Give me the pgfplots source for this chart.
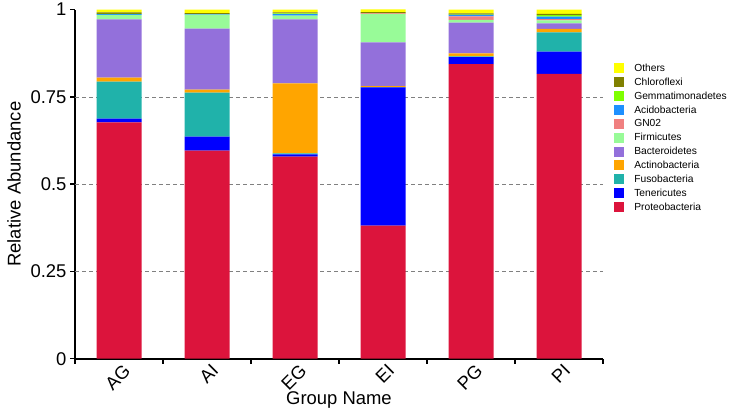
\documentclass[border=0pt]{standalone}
\usepackage{fontspec}
\setmainfont{Liberation Sans}
\usepackage{pgfplots}
\pgfplotsset{compat=1.18}
\definecolor{cOthers}{HTML}{FFFF00}
\definecolor{cChloro}{HTML}{808000}
\definecolor{cGemma}{HTML}{7FFF00}
\definecolor{cAcido}{HTML}{1E90FF}
\definecolor{cGN}{HTML}{F08080}
\definecolor{cFirm}{HTML}{98FB98}
\definecolor{cBact}{HTML}{9370DB}
\definecolor{cActino}{HTML}{FFA500}
\definecolor{cFuso}{HTML}{20B2AA}
\definecolor{cTeneri}{HTML}{0000FF}
\definecolor{cProteo}{HTML}{DC143C}
\begin{document}
\begin{tikzpicture}
\begin{axis}[
  name=ax,
  scale only axis,
  width=528bp, height=349bp,
  ybar stacked,
  bar width=45bp,
  xmin=-0.5, xmax=5.5,
  ymin=0, ymax=1,
  axis lines=left,
  axis line style={line width=1.8bp, -},
  tick align=outside,
  major tick length=0pt,
  minor tick length=5bp,
  tick style={line width=1.5bp, black},
  xtick={0,1,2,3,4,5},
  xticklabels={AG,AI,EG,EI,PG,PI},
  minor xtick={-0.5,0.5,1.5,2.5,3.5,4.5,5.5},
  x tick label style={rotate=45, anchor=north east, inner sep=0.5bp, yshift=-5bp},
  ytick={0,0.25,0.5,0.75,1},
  yticklabels={0,0.25,0.5,0.75,1},
  minor ytick={0,0.25,0.5,0.75,1},
  y tick label style={xshift=-5bp},
  extra y ticks={0.25,0.5,0.75},
  extra y tick labels={},
  extra y tick style={grid=major, major grid style={dash pattern=on 4bp off 3bp, gray, line width=0.8bp}},
  ticklabel style={font=\fontsize{18.5}{20}\selectfont},
  xlabel={Group Name},
  ylabel={Relative Abundance},
  label style={font=\fontsize{18.5}{20}\selectfont},
  xlabel style={yshift=2bp, inner sep=1bp},
  ylabel style={yshift=3bp},
  reverse legend,
  legend cell align=left,
  legend style={at={(1.021,0.851)}, anchor=north west, draw=none, fill=none,
    font=\fontsize{10.3}{12}\selectfont, row sep=1bp, inner sep=0pt,
    nodes={inner xsep=1bp},
    /tikz/every odd column/.append style={column sep=9bp}},
  legend image code/.code={\fill[#1] (0bp,-5bp) rectangle (10bp,5bp);},
]
\addplot+[fill=cProteo, draw=none] coordinates {(0,0.677) (1,0.596) (2,0.579) (3,0.381) (4,0.844) (5,0.816)};
\addplot+[fill=cTeneri, draw=none] coordinates {(0,0.011) (1,0.040) (2,0.006) (3,0.396) (4,0.020) (5,0.064)};
\addplot+[fill=cFuso, draw=none] coordinates {(0,0.106) (1,0.126) (2,0.003) (3,0.001) (4,0.002) (5,0.055)};
\addplot+[fill=cActino, draw=none] coordinates {(0,0.011) (1,0.009) (2,0.201) (3,0.003) (4,0.009) (5,0.010)};
\addplot+[fill=cBact, draw=none] coordinates {(0,0.167) (1,0.175) (2,0.183) (3,0.125) (4,0.088) (5,0.016)};
\addplot+[fill=cFirm, draw=none] coordinates {(0,0.013) (1,0.040) (2,0.011) (3,0.081) (4,0.008) (5,0.008)};
\addplot+[fill=cGN, draw=none] coordinates {(0,0.000) (1,0.000) (2,0.000) (3,0.002) (4,0.010) (5,0.004)};
\addplot+[fill=cAcido, draw=none] coordinates {(0,0.002) (1,0.001) (2,0.004) (3,0.000) (4,0.004) (5,0.007)};
\addplot+[fill=cGemma, draw=none] coordinates {(0,0.001) (1,0.000) (2,0.002) (3,0.000) (4,0.001) (5,0.004)};
\addplot+[fill=cChloro, draw=none] coordinates {(0,0.004) (1,0.003) (2,0.003) (3,0.004) (4,0.003) (5,0.004)};
\addplot+[fill=cOthers, draw=none] coordinates {(0,0.008) (1,0.010) (2,0.008) (3,0.008) (4,0.011) (5,0.012)};
\legend{Proteobacteria,Tenericutes,Fusobacteria,Actinobacteria,Bacteroidetes,Firmicutes,GN02,Acidobacteria,Gemmatimonadetes,Chloroflexi,Others}
\end{axis}
\useasboundingbox ([shift={(-75bp,-52bp)}]ax.south west) rectangle ([shift={(130bp,8bp)}]ax.north east);
\end{tikzpicture}
\end{document}
